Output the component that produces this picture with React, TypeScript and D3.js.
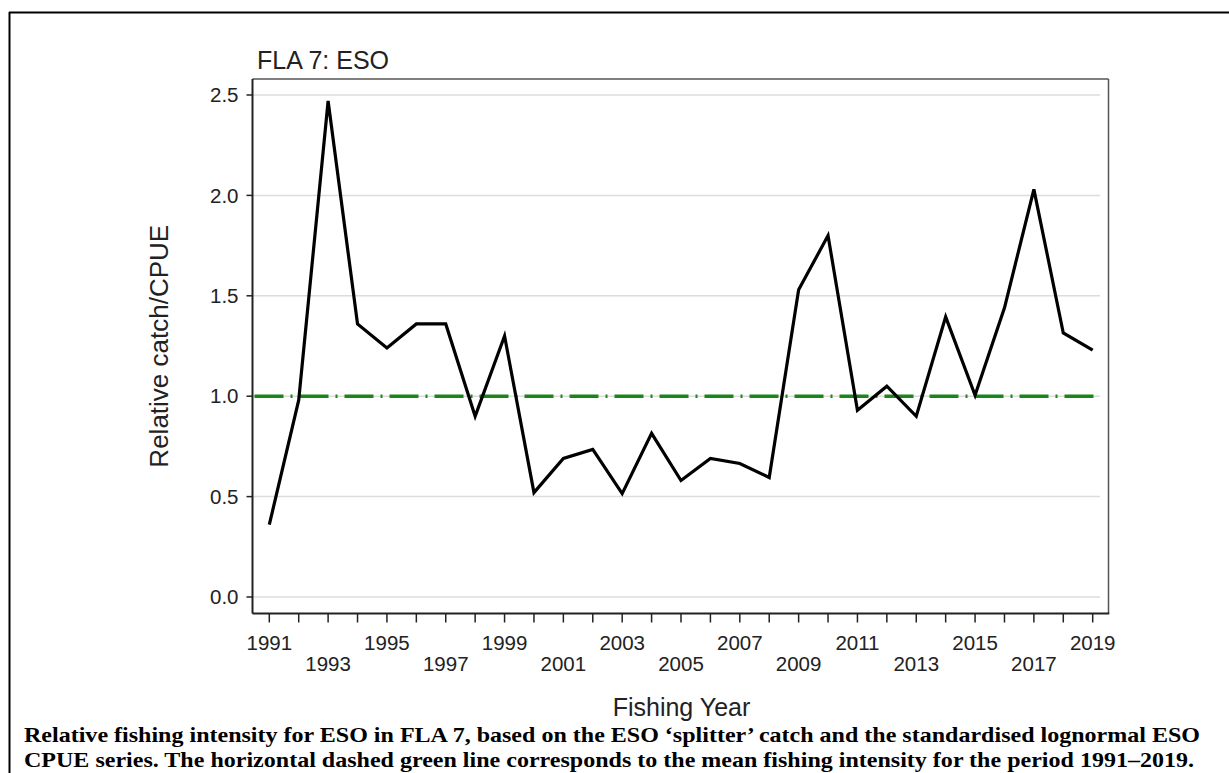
import React from 'react';
import * as d3 from 'd3';

// Fishing years and relative catch/CPUE values
const years: number[] = [
  1991, 1992, 1993, 1994, 1995, 1996, 1997, 1998, 1999, 2000,
  2001, 2002, 2003, 2004, 2005, 2006, 2007, 2008, 2009, 2010,
  2011, 2012, 2013, 2014, 2015, 2016, 2017, 2018, 2019,
];
const relative: number[] = [
  0.36, 0.98, 2.47, 1.36, 1.24, 1.36, 1.36, 0.9, 1.3, 0.52,
  0.69, 0.735, 0.515, 0.815, 0.58, 0.69, 0.665, 0.595, 1.53, 1.8,
  0.93, 1.05, 0.9, 1.395, 1.005, 1.44, 2.03, 1.315, 1.23,
];
const meanLevel = 1.0;
const yTicks: number[] = [0, 0.5, 1.0, 1.5, 2.0, 2.5];
const xTickLabels: number[] = [
  1991, 1993, 1995, 1997, 1999, 2001, 2003, 2005, 2007, 2009,
  2011, 2013, 2015, 2017, 2019,
];

const title = 'FLA 7: ESO';
const xTitle = 'Fishing Year';
const yTitle = 'Relative catch/CPUE';
const captionLines: string[] = [
  'Relative fishing intensity for ESO in FLA 7, based on the ESO \u2018splitter\u2019 catch and the standardised lognormal ESO',
  'CPUE series. The horizontal dashed green line corresponds to the mean fishing intensity for the period 1991\u20132019.',
];

const W = 1229;
const H = 773;
const frame = { left: 252.5, right: 1108.5, top: 79, bottom: 613.5 };

const sans = '"Liberation Sans", Arial, sans-serif';
const serif = '"Liberation Serif", "Times New Roman", serif';

const App: React.FC = () => {
  const x = d3.scaleLinear().domain([1991, 2019]).range([269.3, 1092.7]);
  const y = d3.scaleLinear().domain([0, 2.5]).range([597, 95]);

  const line = d3
    .line<number>()
    .x((_, i) => x(years[i]))
    .y(d => y(d));

  const cx = (frame.left + frame.right) / 2;
  const cy = (frame.top + frame.bottom) / 2;

  return (
    <div style={{ position: 'absolute', left: 0, top: 0 }}>
      <svg width={W} height={H} style={{ display: 'block', background: '#fff' }}>
        {/* outer figure border (top + left only, rest cut off) */}
        <line x1={9} x2={W} y1={12.5} y2={12.5} stroke="#000" strokeWidth={2} />
        <line x1={9.5} x2={9.5} y1={12} y2={H} stroke="#000" strokeWidth={2} />

        {/* gridlines */}
        {yTicks.map(t => (
          <line
            key={`g${t}`}
            x1={frame.left}
            x2={1100}
            y1={y(t)}
            y2={y(t)}
            stroke="#dcdcdc"
            strokeWidth={1.5}
          />
        ))}

        {/* mean reference line */}
        <line
          x1={frame.left}
          x2={1098}
          y1={y(meanLevel)}
          y2={y(meanLevel)}
          stroke="#1a861a"
          strokeWidth={3.5}
          strokeDasharray="29 7 2 7"
          strokeDashoffset={-2}
        />

        {/* series */}
        <path
          d={line(relative) ?? ''}
          fill="none"
          stroke="#000"
          strokeWidth={3.2}
          strokeLinejoin="miter"
        />

        {/* frame: top/right lighter, bottom/left axis darker */}
        <line x1={frame.left} x2={frame.right} y1={frame.top} y2={frame.top} stroke="#555" strokeWidth={1.5} />
        <line x1={frame.right} x2={frame.right} y1={frame.top} y2={frame.bottom} stroke="#555" strokeWidth={1.5} />
        <line x1={frame.left} x2={frame.right + 0.75} y1={frame.bottom} y2={frame.bottom} stroke="#222" strokeWidth={2} />
        <line x1={frame.left} x2={frame.left} y1={frame.top} y2={frame.bottom} stroke="#222" strokeWidth={2} />

        {/* y axis ticks + labels */}
        {yTicks.map(t => (
          <g key={`y${t}`}>
            <line x1={frame.left - 6} x2={frame.left} y1={y(t)} y2={y(t)} stroke="#222" strokeWidth={1.5} />
            <text
              x={frame.left - 14}
              y={y(t)}
              dy="0.35em"
              textAnchor="end"
              fontFamily={sans}
              fontSize={20.5}
              fill="#222"
            >
              {t.toFixed(1)}
            </text>
          </g>
        ))}

        {/* x axis ticks (every year) */}
        {years.map(yr => (
          <line
            key={`xt${yr}`}
            x1={x(yr)}
            x2={x(yr)}
            y1={frame.bottom}
            y2={frame.bottom + 9}
            stroke="#222"
            strokeWidth={1.5}
          />
        ))}
        {xTickLabels.map((yr, i) => (
          <text
            key={`xl${yr}`}
            x={x(yr)}
            y={i % 2 === 0 ? 650 : 670.5}
            textAnchor="middle"
            fontFamily={sans}
            fontSize={20.5}
            fill="#222"
          >
            {yr}
          </text>
        ))}

        {/* titles */}
        <text x={257} y={68.5} fontFamily={sans} fontSize={25} fill="#222">
          {title}
        </text>
        <text x={cx + 1} y={716} textAnchor="middle" fontFamily={sans} fontSize={25} fill="#222">
          {xTitle}
        </text>
        <text
          transform={`translate(168,${cy}) rotate(-90)`}
          textAnchor="middle"
          fontFamily={sans}
          fontSize={26}
          fill="#222"
        >
          {yTitle}
        </text>

        {/* caption */}
        {captionLines.map((c, i) => (
          <text
            key={`c${i}`}
            x={24}
            y={742 + i * 25}
            fontFamily={serif}
            fontWeight="bold"
            fontSize={21}
            fill="#000"
            textLength={i === 0 ? 1176 : 1170}
            lengthAdjust="spacingAndGlyphs"
          >
            {c}
          </text>
        ))}
      </svg>
    </div>
  );
};

export default App;
